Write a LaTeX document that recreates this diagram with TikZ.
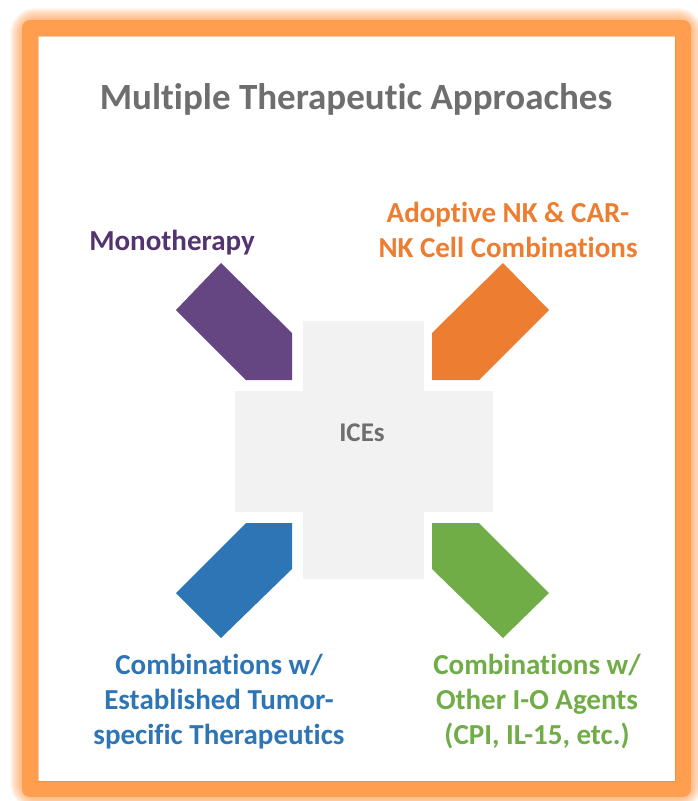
\documentclass[tikz,border=0pt]{standalone}
\usepackage{fontspec}
\setmainfont{Carlito}[Ligatures={NoCommon,NoContextual}]
\usetikzlibrary{positioning}

\definecolor{titlegray}{RGB}{110,110,110}
\definecolor{crossgray}{RGB}{242,242,242}
\definecolor{glowor}{RGB}{255,158,78}
\definecolor{monopurple}{RGB}{102,70,130}
\definecolor{monotext}{RGB}{84,52,112}
\definecolor{nkorange}{RGB}{237,125,49}
\definecolor{tumorblue}{RGB}{46,117,182}
\definecolor{iogreen}{RGB}{112,173,71}

\tikzset{
  lbl/.style={font=\fontsize{29}{35}\selectfont\bfseries, align=center, inner sep=0pt},
  glow/.style={draw=glowor, line join=round},
}

\begin{document}
\begin{tikzpicture}[x=1pt, y=-1pt]

\useasboundingbox (0,0) rectangle (698,801);
\fill[white] (0,0) rectangle (698,801);

% orange frame with soft edge
\foreach \i in {1,...,12}
  \draw[glow, line width=16pt+2*\i pt, opacity=0.08, rounded corners=6pt] (30,28) rectangle (683,789);
\draw[glow, line width=16pt] (30,28) rectangle (683,789);
\fill[white] (38,36) rectangle (675,781);
\draw[nkorange!60!brown, line width=0.6pt, opacity=0.4] (38,36) rectangle (675,781);

\node[font=\fontsize{37}{44}\selectfont\bfseries, text=titlegray] (title) at (356,99) {Multiple Therapeutic Approaches};

% cross in the middle
\fill[crossgray] (303,321) rectangle (424,579);
\fill[crossgray] (235,391) rectangle (493,512);
\node[font=\fontsize{27}{30}\selectfont\bfseries, text=titlegray] (ices) at (362,433) {ICEs};

% the four tags
\fill[monopurple] (221,263) -- (176,310) -- (246,380) -- (292,380) -- (292,333) -- cycle;
\fill[nkorange] (503,263) -- (549,310) -- (479,380) -- (432,380) -- (432,333) -- cycle;
\fill[tumorblue] (292,523) -- (246,523) -- (176,593) -- (221,638) -- (292,569) -- cycle;
\fill[iogreen] (432,523) -- (479,523) -- (549,593) -- (503,638) -- (432,569) -- cycle;

\node[lbl, text=monotext] (mono_lbl) at (172,243) {Monotherapy};
\node[lbl, text=nkorange] (nk_lbl) at (508,230) {Adoptive NK \& CAR-\\NK Cell Combinations};
\node[lbl, text=tumorblue] (tumor_lbl) at (219,702) {Combinations w/\\Established Tumor-\\specific Therapeutics};
\node[lbl, text=iogreen] (io_lbl) at (537,702) {Combinations w/\\Other I-O Agents\\(CPI, IL-15, etc.)};

\end{tikzpicture}
\end{document}
